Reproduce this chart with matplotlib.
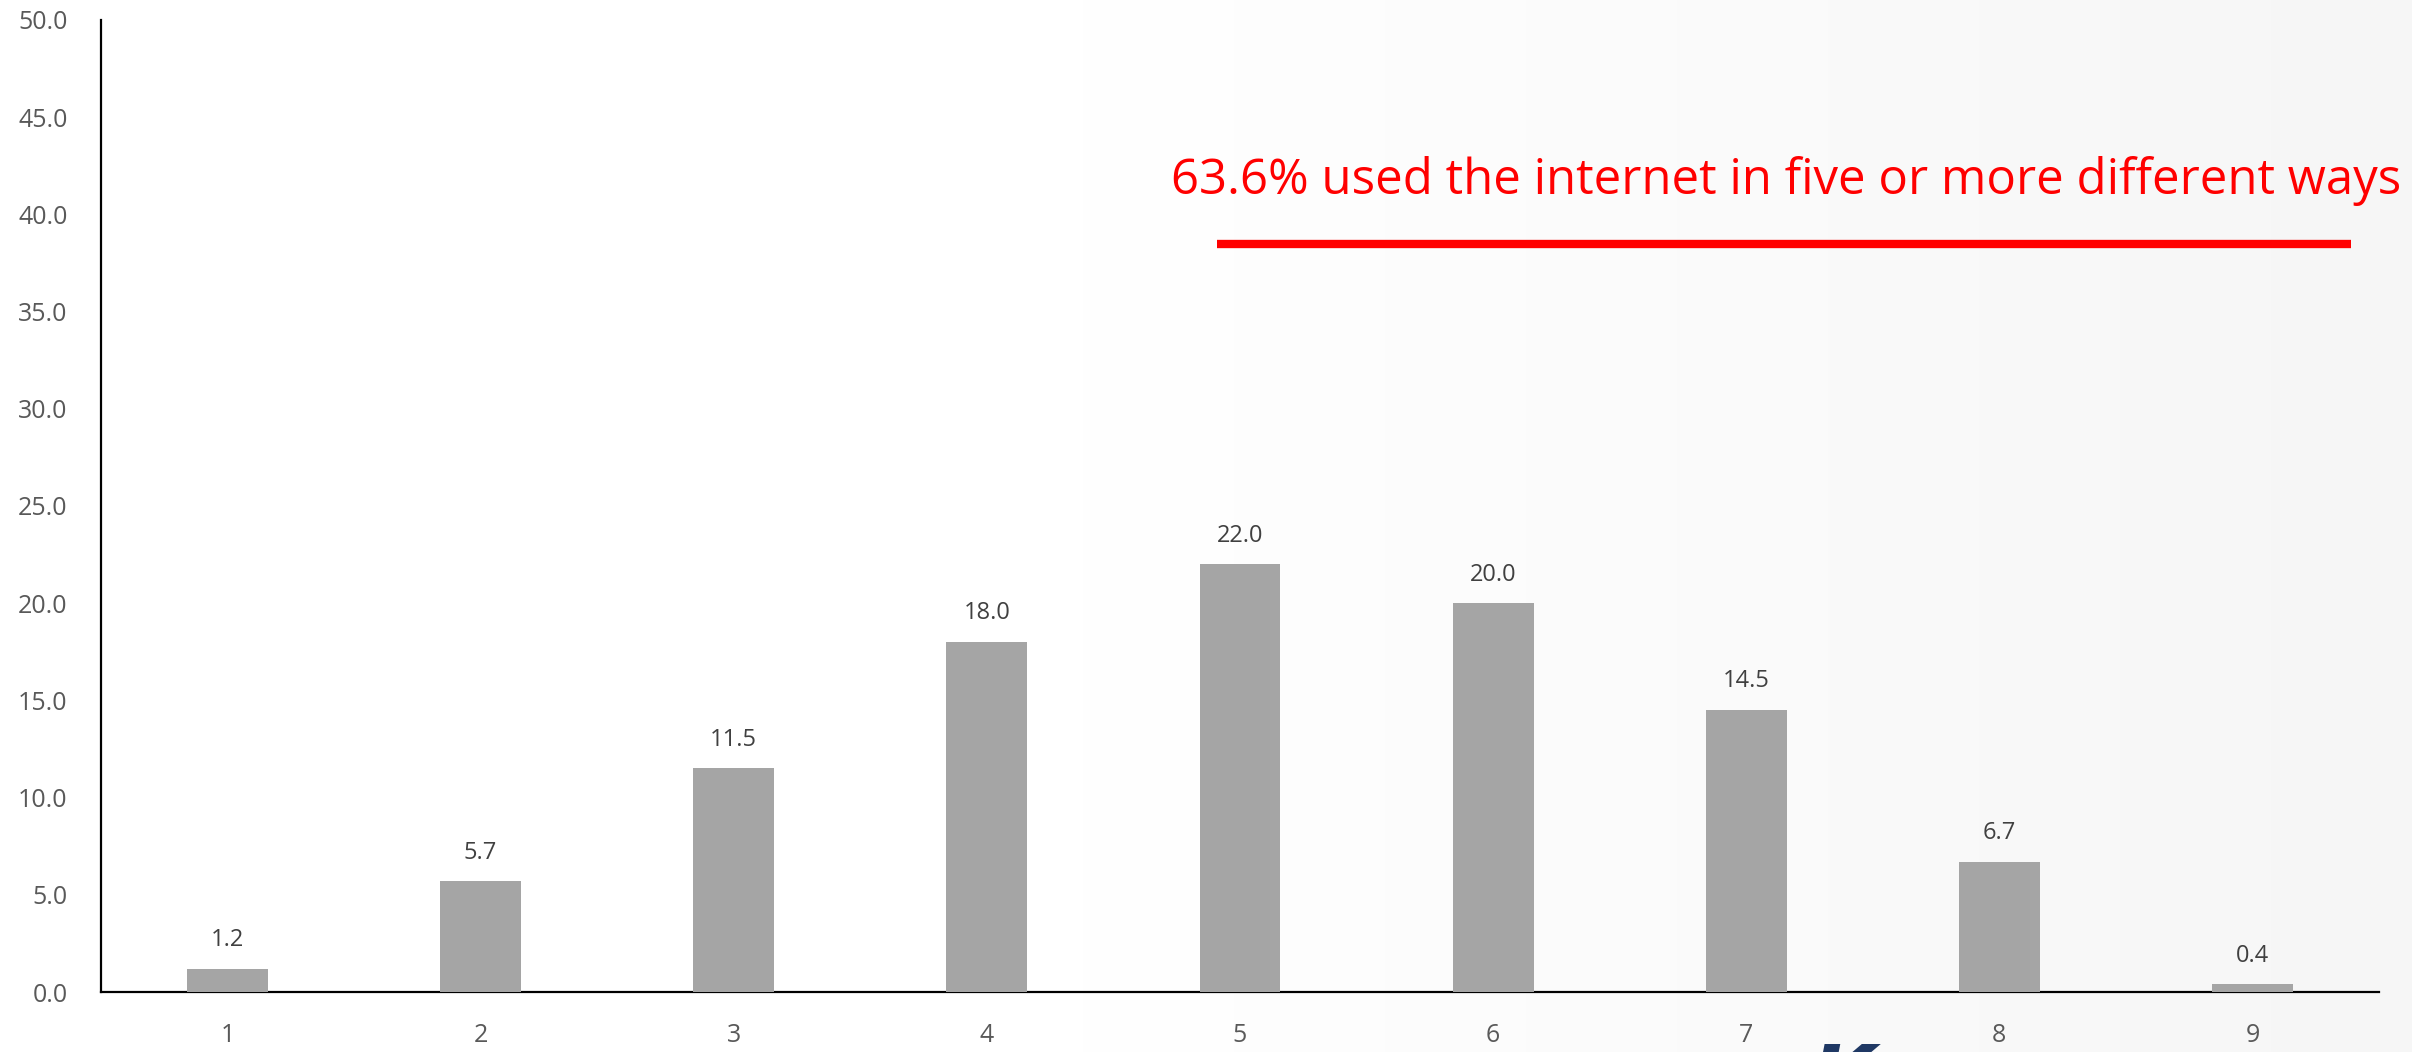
import matplotlib
matplotlib.use("Agg")
import matplotlib.pyplot as plt
import numpy as np

categories = ["1", "2", "3", "4", "5", "6", "7", "8", "9"]
values = [1.2, 5.7, 11.5, 18.0, 22.0, 20.0, 14.5, 6.7, 0.4]
yticks = [0, 5, 10, 15, 20, 25, 30, 35, 40, 45, 50]
annotation = "63.6% used the internet in five or more different ways"

plt.rcParams['font.family'] = ['Open Sans', 'DejaVu Sans']

fig = plt.figure(figsize=(24.12, 10.52), dpi=100)

# subtle background gradient (white -> light gray on right)
bg = fig.add_axes([0, 0, 1, 1], zorder=-10)
grad = np.linspace(0, 1, 256)
grad = np.clip((grad - 0.45) / 0.55, 0, 1)
img = np.ones((2, 256, 3))
for c in range(3):
    img[:, :, c] = 1.0 - 0.035 * grad
bg.imshow(img, aspect='auto', extent=[0, 1, 0, 1])
bg.axis('off')

ax = fig.add_axes([101/2412, 1 - 992/1052, (2379-101)/2412, (992-20)/1052])
ax.patch.set_alpha(0)

x = np.arange(len(categories))
bars = ax.bar(x, values, width=0.32, color='#a5a5a5', zorder=3)
for xi, v in zip(x, values):
    ax.annotate(f"{v:.1f}", (xi, v), xytext=(0, 12), textcoords='offset points',
                ha='center', va='bottom', fontsize=17, color='#404040')

ax.set_xlim(-0.5, len(categories) - 0.5)
ax.set_ylim(0, 50)
ax.set_yticks(yticks)
ax.set_yticklabels([f"{t:.1f}" for t in yticks])
ax.set_xticks(x)
ax.set_xticklabels(categories)
ax.tick_params(axis='both', length=0, labelsize=18, labelcolor='#595959')
ax.tick_params(axis='y', pad=24)
ax.tick_params(axis='x', pad=22)
for s in ['top', 'right']:
    ax.spines[s].set_visible(False)
ax.spines['left'].set_color('black')
ax.spines['bottom'].set_color('black')
ax.spines['left'].set_linewidth(1.6)
ax.spines['bottom'].set_linewidth(1.6)

ax.text(6.157, 41.7, annotation, ha='center', va='center', color='#ff0000',
        fontsize=35.4, clip_on=False)
ax.plot([3.91, 8.39], [38.5, 38.5], color='#ff0000', linewidth=6, solid_capstyle='butt', clip_on=False)

fig.text(1843/2412, (1052-1041)/1052, 'K', ha='center', va='top', fontsize=60,
         fontweight='bold', style='italic', color='#1f3864', family='DejaVu Sans')

fig.savefig('out.png', dpi=100)
